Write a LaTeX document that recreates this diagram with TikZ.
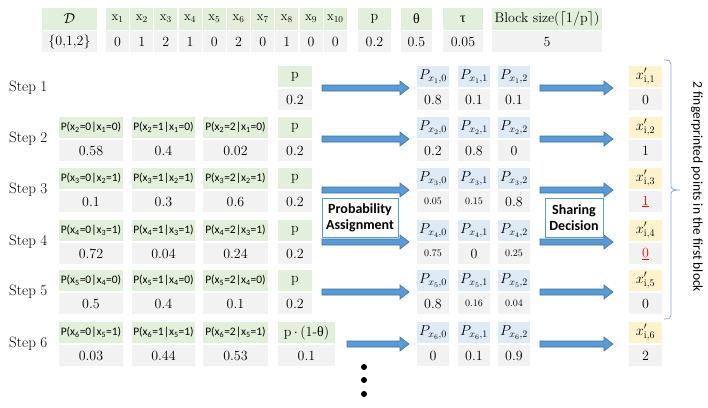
\documentclass[tikz,border=0pt]{standalone}
\usepackage{fontspec}
\newfontfamily\carl{Carlito}
\newfontfamily\grk{Liberation Serif}
\usetikzlibrary{calc}
\definecolor{cgreen}{HTML}{E2EFDA}
\definecolor{cgray}{HTML}{F2F2F2}
\definecolor{cblue}{HTML}{DEEBF7}
\definecolor{cyellow}{HTML}{FFF2CC}
\definecolor{cfill}{HTML}{5B9BD5}
\definecolor{cedge}{HTML}{41719C}
\definecolor{cbrace}{HTML}{8FAADC}
\newcommand\sm[1]{{\fontsize{10}{10}\selectfont #1}}
\newcommand\redu[1]{\textcolor{red}{\underline{#1}}}
\newcommand\blockarrow[2]{\path[arr] let \p1=(#1), \p2=(#2) in
  (\x1,\y1+3pt) -- (\x2-9pt,\y1+3pt) -- (\x2-9pt,\y1+7pt) -- (\x2,\y1) --
  (\x2-9pt,\y1-7pt) -- (\x2-9pt,\y1-3pt) -- (\x1,\y1-3pt) -- cycle;}
\begin{document}
\begin{tikzpicture}[x=1pt,y=-1pt,
  cell/.style={inner sep=0pt,outer sep=0pt,anchor=north west,minimum height=21pt,font=\fontsize{14}{14}\selectfont},
  hg/.style={cell,fill=cgreen},
  vg/.style={cell,fill=cgray},
  hb/.style={cell,fill=cblue},
  hy/.style={cell,fill=cyellow},
  cond/.style={hg,font=\carl\fontsize{11.5}{11.5}\selectfont},
  steplbl/.style={anchor=west,inner sep=0pt,font=\fontsize{15}{15}\selectfont},
  proc/.style={draw=cfill,line width=1pt,fill=white,align=center,inner sep=0pt,font=\carl\bfseries\fontsize{14}{16}\selectfont},
  arr/.style={fill=cfill,draw=cedge,line width=0.6pt},
  dotnode/.style={circle,fill=black,inner sep=0pt,minimum size=6pt}
  ]
\useasboundingbox (0,0) rectangle (708,407);
% top table
\node[hg,minimum width=55pt,minimum height=22pt] (Dh) at (42,8) {$\mathcal{D}$};
\node[vg,minimum width=55pt] (Dv) at (42,31) {\{0,1,2\}};
\foreach \i/\v [evaluate=\i as \xx using 106+(\i-1)*24.2] in {1/0,2/1,3/2,4/1,5/0,6/2,7/0,8/1,9/0,10/0}{
  \node[hg,minimum width=23pt,minimum height=22pt,font=\fontsize{13}{13}\selectfont] (xh\i) at (\xx,8) {$\mathrm{x}_{\i}$};
  \node[vg,minimum width=23pt] (xv\i) at (\xx,31) {\v};
}
\node[hg,minimum width=33pt,minimum height=22pt] (Ph) at (358,8) {p};
\node[vg,minimum width=33pt] (Pv) at (358,31) {0.2};
\node[hg,minimum width=31pt,minimum height=22pt] (Th) at (401,8) {{\grk θ}};
\node[vg,minimum width=31pt] (Tv) at (401,31) {0.5};
\node[hg,minimum width=40pt,minimum height=22pt] (Uh) at (443,8) {{\grk τ}};
\node[vg,minimum width=40pt] (Uv) at (443,31) {0.05};
\node[hg,minimum width=110pt,minimum height=22pt] (Bh) at (492,8) {Block size($\lceil 1/\mathrm{p}\rceil$)};
\node[vg,minimum width=110pt] (Bv) at (492,31) {5};
% step labels
\foreach \s/\T in {1/66,2/117,3/168,4/220,5/270,6/322}{
  \node[steplbl] (st\s) at (9,\T+22) {Step \s};
}
% conditional cells
\foreach \s/\T/\g/\va/\vb/\vc in {2/117/0/0.58/0.4/0.02,3/168/1/0.1/0.3/0.6,4/220/1/0.72/0.04/0.24,5/270/0/0.5/0.4/0.1,6/322/1/0.03/0.44/0.53}{
  \pgfmathtruncatemacro\pr{\s-1}
  \node[cond,minimum width=64pt] (ch\s-0) at (59,\T) {P(x\textsubscript{\s}=0|x\textsubscript{\pr}=\g)};
  \node[cond,minimum width=63pt] (ch\s-1) at (132,\T) {P(x\textsubscript{\s}=1|x\textsubscript{\pr}=\g)};
  \node[cond,minimum width=65pt] (ch\s-2) at (203,\T) {P(x\textsubscript{\s}=2|x\textsubscript{\pr}=\g)};
  \node[vg,minimum width=64pt] (cv\s-0) at (59,\T+23) {\va};
  \node[vg,minimum width=63pt] (cv\s-1) at (132,\T+23) {\vb};
  \node[vg,minimum width=65pt] (cv\s-2) at (203,\T+23) {\vc};
}
% p cells
\foreach \s/\T in {1/66,2/117,3/168,4/220,5/270}{
  \node[hg,minimum width=34pt] (ph\s) at (278,\T) {p};
  \node[vg,minimum width=34pt] (pv\s) at (278,\T+23) {0.2};
}
\node[hg,minimum width=57pt] (ph6) at (278,322) {p$\,\cdot\,$(1-{\grk θ})};
\node[vg,minimum width=57pt] (pv6) at (278,345) {0.1};
% blue and yellow cells
\foreach \s/\T/\va/\vb/\vc/\y in {1/66/0.8/0.1/0.1/0,2/117/0.2/0.8/0/1,3/168/\sm{0.05}/\sm{0.15}/0.8/\redu{1},4/220/\sm{0.75}/0/\sm{0.25}/\redu{0},5/270/0.8/\sm{0.16}/\sm{0.04}/0,6/322/0/0.1/0.9/2}{
  \node[hb,minimum width=32pt,font=\fontsize{14.5}{14.5}\selectfont] (bh\s-0) at (417,\T) {$P_{x_{\s},0}$};
  \node[hb,minimum width=32pt,font=\fontsize{14.5}{14.5}\selectfont] (bh\s-1) at (458,\T) {$P_{x_{\s},1}$};
  \node[hb,minimum width=32pt,font=\fontsize{14.5}{14.5}\selectfont] (bh\s-2) at (498,\T) {$P_{x_{\s},2}$};
  \node[vg,minimum width=32pt] (bv\s-0) at (417,\T+23) {\va};
  \node[vg,minimum width=32pt] (bv\s-1) at (458,\T+23) {\vb};
  \node[vg,minimum width=32pt] (bv\s-2) at (498,\T+23) {\vc};
  \node[hy,minimum width=33pt,font=\fontsize{14.5}{14.5}\selectfont] (yh\s) at (629,\T) {$x'_{\mathrm{i},\s}$};
  \node[vg,minimum width=33pt] (yv\s) at (629,\T+23) {\y};
}
% arrows
\foreach \s in {1,...,6}{
  \ifnum\s<6
    \coordinate (la\s) at ($($(ph\s.south east)!.5!(pv\s.north east)$)+(10,0)$);
  \else
    \coordinate (la\s) at ($($(ph\s.south east)!.5!(pv\s.north east)$)+(12,0)$);
  \fi
  \coordinate (lb\s) at ($($(bh\s-0.south west)!.5!(bv\s-0.north west)$)+(-8,0)$);
  \coordinate (ra\s) at ($($(bh\s-2.south east)!.5!(bv\s-2.north east)$)+(10,0)$);
  \coordinate (rb\s) at ($($(yh\s.south west)!.5!(yv\s.north west)$)+(-16,0)$);
  \blockarrow{la\s}{lb\s}
  \blockarrow{ra\s}{rb\s}
}
% process boxes
\node[proc,minimum width=76pt,minimum height=39pt] (pa) at (360,217.5) {Probability\\Assignment};
\node[proc,minimum width=58pt,minimum height=39pt] (sd) at (574,217.5) {Sharing\\Decision};
% brace
\draw[cbrace,line width=0.8pt] (664,60) .. controls (669,60) and (671,61) .. (671,64) -- (671,186)
  .. controls (671,189) and (673,190) .. (680,190)
  .. controls (673,190) and (671,191) .. (671,194) -- (671,315)
  .. controls (671,318) and (669,319) .. (664,319);
\node[rotate=-90,inner sep=0pt,font=\carl\fontsize{13.5}{14}\selectfont] (lbl) at (697,187) {2 fingerprinted points in the first block};
% dots
\node[dotnode] (d1) at (364,367) {};
\node[dotnode] (d2) at (364,380) {};
\node[dotnode] (d3) at (364,394) {};
\end{tikzpicture}
\end{document}
